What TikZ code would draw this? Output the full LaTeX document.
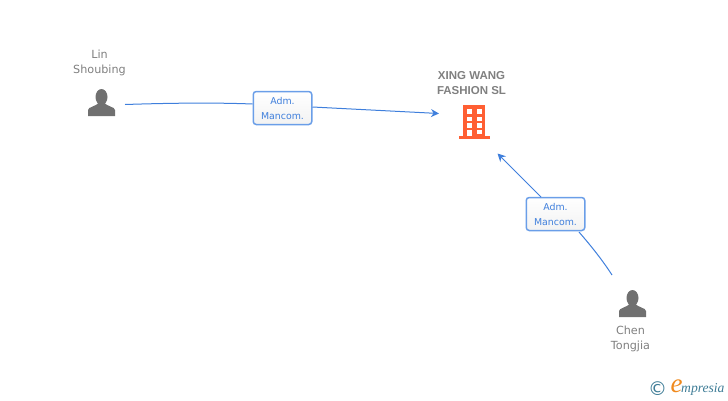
\documentclass[tikz,border=0pt]{standalone}
\usepackage{fontspec}
\setmainfont{DejaVu Sans}
\newfontfamily\boldname{Liberation Sans}
\newfontfamily\logofont{Liberation Serif}
\usetikzlibrary{arrows.meta,positioning,shadings}
\definecolor{linkblue}{HTML}{3F7FDC}
\definecolor{boxblue}{HTML}{6A9EE8}
\definecolor{namegray}{HTML}{808080}
\definecolor{icongray}{HTML}{707070}
\definecolor{buildred}{HTML}{FF5F33}
\definecolor{logoblue}{HTML}{3E7C96}
\definecolor{logoorange}{HTML}{F08A1E}
\begin{document}
\begin{tikzpicture}[x=1pt,y=-1pt,
        person name/.style={text=namegray,font=\fontsize{11.2}{15}\selectfont,align=center,inner sep=0pt},
        firm name/.style={text=namegray,font=\boldname\bfseries\fontsize{11.5}{15}\selectfont,align=center,inner sep=0pt},
        role box/.style={draw=boxblue,line width=1.5pt,rounded corners=3pt,top color=white,bottom color=black!5,
           text=linkblue,minimum width=58.5pt,minimum height=33pt,inner sep=0pt,
           align=center,font=\fontsize{9.4}{15}\selectfont},
        link line/.style={draw=linkblue,line width=1pt},
        link arrow/.style={link line,-{Stealth[length=8pt,width=8pt]}},
        person/.pic={
            \fill[icongray] (0,-8) ellipse (6 and 8);
            \fill[icongray] (-13.5,11) -- (-13.5,5) .. controls (-13.5,2) and (-5,1) .. (-3,-2)
                -- (3,-2) .. controls (5,1) and (13.5,2) .. (13.5,5) -- (13.5,11) -- cycle;
        },
    ]
    \useasboundingbox (0,0) rectangle (728,400);
    % names
    \node[person name] (lin) at (99.5,63) {Lin\\Shoubing};
    \node[person name] (chen) at (630.5,339) {Chen\\Tongjia};
    \node[firm name] (xing) at (471.5,83.5) {XING WANG\\FASHION SL};
    % icons
    \path (101.5,105) pic {person};
    \path (632.5,306) pic {person};
    \fill[buildred] (463,105) rectangle (485,136);
    \fill[buildred] (458.5,136) rectangle (490,139);
    \foreach \wy in {109,116.5,123} {
        \fill[white] (467,\wy) rectangle +(5,4.5);
        \fill[white] (477,\wy) rectangle +(5,4.5);
    }
    \fill[white] (467,129.5) rectangle (472,136);
    \fill[white] (477,129.5) rectangle (482,134);
    % connectors
    \node[role box] (admlin) at (282.5,108) {Adm.\\Mancom.};
    \node[role box] (admchen) at (555.5,214) {Adm.\\Mancom.};
    \coordinate (linend) at (125,104.5);
    \coordinate (xingin) at (439,113.5);
    \coordinate (chenend) at (612,275);
    \coordinate (xingup) at (497.5,153.5);
    \draw[link line] (linend) .. controls (170,103) and (215,102.5) .. (admlin.west |- 0,104);
    \draw[link arrow] (admlin.east |- 0,107) -- (xingin);
    \draw[link line] (chenend) .. controls (603,261) and (592,247) .. (579,232);
    \draw[link arrow] (541,197) -- (xingup);
    % logo
    \node[text=logoblue,inner sep=0pt,font=\fontsize{19}{20}\selectfont] (logoring) at (657.5,389) {©};
    \node[text=logoorange,font=\logofont\itshape\fontsize{27}{27}\selectfont,inner sep=0pt] (logoe) at (676.5,386.5) {e};
    \node[anchor=west,text=logoblue,inner sep=0pt,
        font=\logofont\itshape\fontsize{13.6}{14}\selectfont] (logotext) at (681,389.5) {mpresia};
\end{tikzpicture}
\end{document}
